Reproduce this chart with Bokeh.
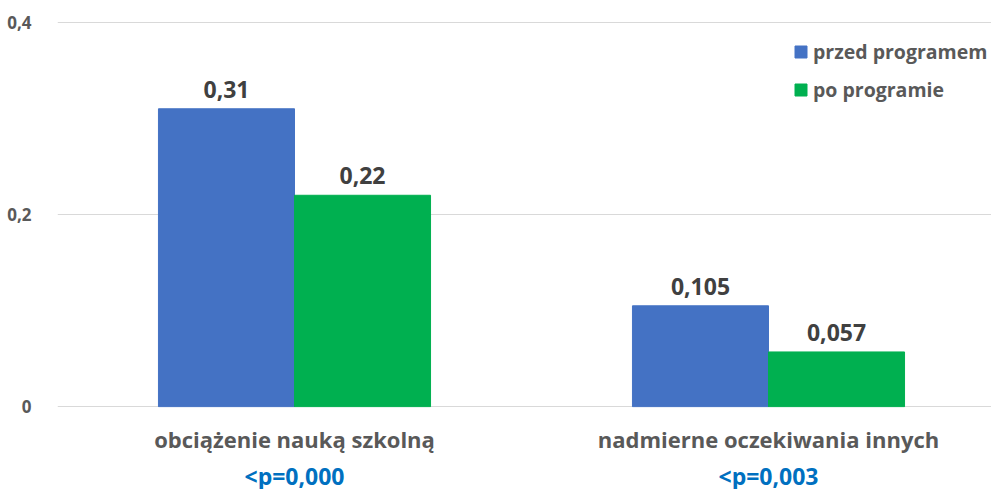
from bokeh.plotting import figure
from bokeh.models import Range1d, LinearAxis, FixedTicker, Legend, LegendItem, ColumnDataSource
from bokeh.core.properties import value
from bokeh.embed import file_html
from bokeh.resources import INLINE

categories = ["obciążenie nauką szkolną", "nadmierne oczekiwania innych"]
pvalues = ["<p=0,000", "<p=0,003"]
series_names = ["przed programem", "po programie"]
before = [0.31, 0.105]
after = [0.22, 0.057]
before_labels = ["0,31", "0,105"]
after_labels = ["0,22", "0,057"]
y_ticks = [0, 0.2, 0.4]
y_tick_labels = ["0", "0,2", "0,4"]

FONT = "Open Sans"
BLUE = "#4472C4"
GREEN = "#00B050"
GRAY = "#595959"
DARK = "#404040"
PBLUE = "#0070C0"

idx = list(range(len(categories)))
bw = 0.287

p = figure(frame_width=934, frame_height=386, output_backend="svg", toolbar_location=None,
           x_range=Range1d(-0.5, -0.5 + 934 / 474), y_range=Range1d(-0.0008, 0.4008),
           min_border_left=57, min_border_right=0, min_border_top=21, min_border_bottom=0,
           x_axis_location=None)
p.outline_line_color = None
p.xgrid.visible = False
p.background_fill_color = "white"
p.border_fill_color = "white"

src_b = ColumnDataSource(dict(x=[i - bw / 2 for i in idx], top=before, lab=before_labels))
src_a = ColumnDataSource(dict(x=[i + bw / 2 for i in idx], top=after, lab=after_labels))

r1 = p.vbar(x="x", top="top", width=bw, source=src_b, fill_color=BLUE, line_color=BLUE, line_width=1)
r2 = p.vbar(x="x", top="top", width=bw, source=src_a, fill_color=GREEN, line_color=GREEN, line_width=1)

for s in (src_b, src_a):
    p.text(x="x", y="top", text="lab", source=s, text_align="center", text_baseline="bottom",
           y_offset=-11, text_font=value(FONT), text_font_style="bold", text_font_size="23px",
           text_color=DARK)

# y axis
yax = p.yaxis[0]
yax.ticker = FixedTicker(ticks=y_ticks)
yax.major_label_overrides = {t: l for t, l in zip(y_ticks, y_tick_labels)}
yax.axis_line_color = None
yax.major_tick_line_color = None
yax.minor_tick_line_color = None
yax.major_label_standoff = 20
yax.major_label_text_font = FONT
yax.major_label_text_font_style = "bold"
yax.major_label_text_font_size = "17px"
yax.major_label_text_color = GRAY

p.ygrid.ticker = FixedTicker(ticks=y_ticks)
p.ygrid.grid_line_color = "#D9D9D9"
p.ygrid.grid_line_width = 1

# category axis
ax1 = LinearAxis(ticker=FixedTicker(ticks=idx),
                 major_label_overrides={i: c for i, c in zip(idx, categories)})
ax2 = LinearAxis(ticker=FixedTicker(ticks=idx),
                 major_label_overrides={i: c for i, c in zip(idx, pvalues)})
for ax, col, st, fs in ((ax1, GRAY, 10, "22px"), (ax2, PBLUE, -3, "23px")):
    ax.axis_line_color = None
    ax.major_tick_line_color = None
    ax.minor_tick_line_color = None
    ax.major_label_standoff = st
    ax.major_label_text_font = FONT
    ax.major_label_text_font_style = "bold"
    ax.major_label_text_font_size = fs
    ax.major_label_text_color = col
p.add_layout(ax1, "below")
p.add_layout(ax2, "below")

legend = Legend(items=[LegendItem(label=series_names[0], renderers=[r1]),
                       LegendItem(label=series_names[1], renderers=[r2])],
                location=(736, 304), orientation="vertical",
                label_text_font=FONT, label_text_font_style="bold", label_text_font_size="19.5px",
                label_text_color=GRAY, glyph_width=15, glyph_height=15, label_height=26,
                label_standoff=5, spacing=11, padding=0, margin=0,
                border_line_color=None, background_fill_alpha=0)
p.add_layout(legend, "center")

open("out.html", "w").write(file_html(p, INLINE))
